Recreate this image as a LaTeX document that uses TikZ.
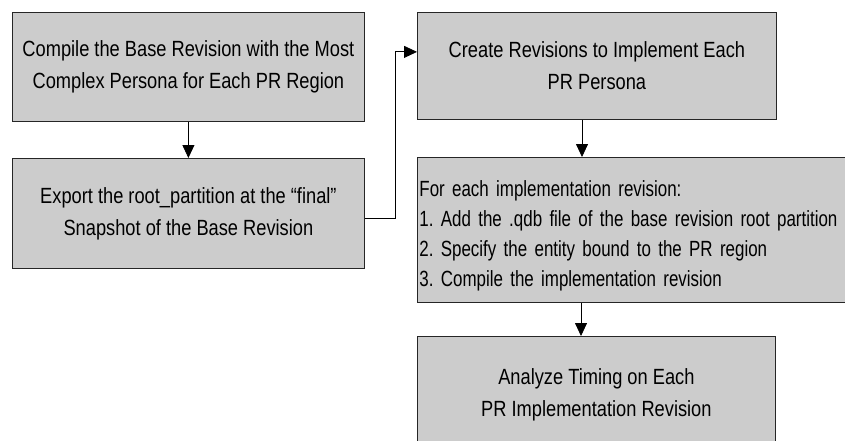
\documentclass[tikz,border=0pt]{standalone}
\usepackage{fontspec}
\setmainfont{Liberation Sans}[FakeStretch=0.83]
\newfontfamily\stepsfont{Liberation Sans}[FakeStretch=0.77]
\usepackage{tikz}
\usetikzlibrary{arrows.meta}

\begin{document}
\frenchspacing
\begin{tikzpicture}[x=1pt, y=1pt,
  box/.style={rectangle, fill=gray!40, draw=black!85, line width=0.8pt, anchor=north west,
    inner sep=0pt, font=\fontsize{22}{32}\selectfont, align=center},
  flow/.style={draw=black, line width=0.8pt, -{Triangle[length=13pt, width=12pt]}}]
\clip (0,0) rectangle (845,-441);
\fill[white] (0,0) rectangle (845,-441);

% left column
\node[box, minimum width=352pt, minimum height=109pt] (compile) at (12,-12)
  {Compile the Base Revision with the Most\\Complex Persona for Each PR Region};
\node[box, minimum width=352pt, minimum height=110pt] (export) at (12,-158)
  {Export the root\_partition at the “final”\\Snapshot of the Base Revision};

% right column
\node[box, minimum width=359pt, minimum height=107pt] (create) at (417,-12)
  {Create Revisions to Implement Each\\PR Persona};
\node[box, minimum height=145pt, text width=470pt, inner xsep=2pt, align=left,
  font=\stepsfont\fontsize{22}{30}\selectfont] (implement) at (417,-157)
  {\rule{0pt}{28pt}For each implementation revision:\\
   1. Add the .qdb file of the base revision root partition\\
   2. Specify the entity bound to the PR region\\
   3. Compile the implementation revision};
\node[box, minimum width=358pt, minimum height=116pt] (analyze) at (417,-336)
  {Analyze Timing on Each\\PR Implementation Revision};

\draw[flow] (compile) -- (export);
\draw[flow] ([yshift=-5pt]export.east) -- ++(31,0) |- ([yshift=14pt]create.west);
\draw[flow] (create.south -| 582,0) -- (implement.north -| 582,0);
\draw[flow] (implement.south -| 581,0) -- (analyze.north -| 581,0);
\end{tikzpicture}
\end{document}
